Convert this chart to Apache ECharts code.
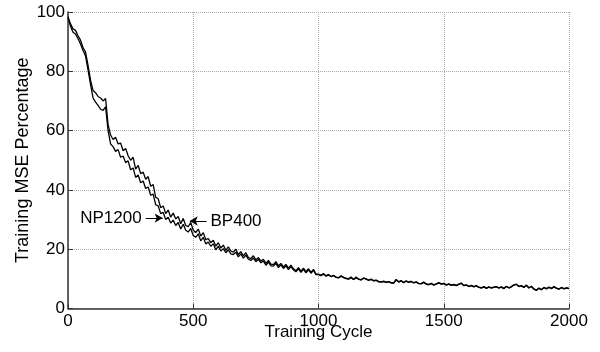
<!DOCTYPE html>
<html>
<head>
<meta charset="utf-8">
<script src="https://cdn.jsdelivr.net/npm/echarts@6/dist/echarts.min.js"></script>
<style>
html, body { margin: 0; padding: 0; background: #fff; }
#myChart { width: 600px; height: 352px; }
</style>
</head>
<body>
<div id="myChart"></div>
<script>
// MSE (%), one value every 10 training cycles (0..2000)
var np1200 = [
	98.4, 96.0, 94.3, 93.8, 92.0, 90.5, 88.0, 86.5, 82.0, 77.0,
	73.5, 72.8, 71.5, 71.0, 70.0, 70.8, 62.0, 58.5, 57.0, 57.8,
	55.5, 55.8, 53.2, 54.0, 51.5, 50.0, 51.0, 47.0, 48.3, 45.5,
	46.0, 43.6, 44.5, 41.2, 41.8, 37.5, 37.0, 34.0, 34.6, 32.0,
	33.2, 30.8, 32.2, 30.2, 31.0, 28.6, 30.4, 28.0, 27.6, 29.0,
	26.4, 25.6, 26.8, 24.4, 25.6, 23.2, 23.6, 22.2, 23.0, 21.0,
	22.2, 20.4, 21.4, 19.6, 20.8, 19.4, 19.0, 20.0, 18.2, 19.2,
	17.8, 18.8, 17.2, 16.8, 17.8, 16.4, 17.2, 16.0, 16.6, 15.2,
	16.2, 15.0, 14.8, 15.8, 14.4, 15.2, 14.0, 14.9, 13.6, 14.6,
	13.4, 12.8, 13.8, 12.6, 13.6, 12.4, 13.4, 12.2, 13.2, 11.6,
	11.6, 11.2, 11.8, 11.0, 11.5, 10.8, 11.2, 10.6, 10.4, 11.0,
	10.5, 10.2, 10.0, 10.6, 9.8, 10.6, 9.9, 9.7, 10.3, 10.0,
	9.6, 9.9, 9.4, 9.6, 9.1, 9.0, 9.2, 8.9, 9.1, 8.7,
	8.6, 9.8, 9.0, 9.4, 8.8, 9.3, 8.9, 9.2, 8.7, 9.0,
	8.5, 8.4, 8.9, 8.3, 8.1, 8.5, 8.0, 8.3, 8.7, 8.3,
	8.5, 8.0, 8.3, 7.9, 8.1, 7.8, 8.2, 8.6, 7.8, 8.0,
	7.5, 7.8, 7.4, 7.7, 7.2, 7.0, 7.4, 6.9, 7.3, 7.0,
	7.2, 7.4, 7.0, 7.3, 6.8, 7.5, 7.0, 7.4, 8.0, 8.2,
	7.5, 7.7, 7.2, 7.9, 7.0, 7.5, 6.6, 6.2, 6.9, 6.4,
	7.1, 6.7, 7.2, 6.8, 7.4, 6.9, 6.6, 7.1, 6.7, 7.0,
	6.8
];
var bp400 = [
	98.2, 95.2, 93.2, 92.6, 91.0, 89.2, 87.0, 85.2, 80.5, 75.5,
	71.0, 69.6, 68.5, 67.2, 66.8, 68.0, 60.0, 55.5, 54.6, 53.0,
	53.6, 51.0, 51.4, 49.2, 49.8, 46.8, 47.4, 44.2, 45.0, 42.4,
	43.0, 40.5, 41.0, 38.2, 38.6, 35.0, 34.6, 32.0, 32.4, 30.0,
	30.8, 28.8, 29.8, 28.0, 29.0, 26.8, 28.4, 26.4, 25.8, 27.0,
	24.6, 24.0, 25.2, 22.8, 24.0, 21.8, 22.4, 21.0, 21.8, 19.8,
	21.0, 19.4, 20.2, 18.8, 19.8, 18.4, 18.2, 19.0, 17.4, 18.4,
	17.0, 18.0, 16.6, 16.2, 17.0, 15.8, 16.6, 15.4, 16.0, 14.6,
	15.6, 14.4, 14.3, 15.2, 13.8, 14.7, 13.5, 14.4, 13.1, 14.1,
	13.0, 12.4, 13.4, 12.2, 13.2, 12.0, 13.0, 11.9, 12.9, 11.4,
	11.4, 11.1, 11.6, 10.9, 11.3, 10.7, 11.1, 10.5, 10.3, 10.9,
	10.4, 10.1, 9.9, 10.4, 9.8, 10.4, 9.9, 9.6, 10.2, 9.9,
	9.5, 9.8, 9.3, 9.5, 9.0, 8.9, 9.1, 8.8, 9.0, 8.6,
	8.6, 9.6, 8.9, 9.3, 8.7, 9.2, 8.8, 9.1, 8.6, 8.9,
	8.4, 8.3, 8.8, 8.2, 8.0, 8.4, 7.9, 8.2, 8.6, 8.2,
	8.4, 7.9, 8.2, 7.8, 8.0, 7.7, 8.1, 8.5, 7.7, 7.9,
	7.4, 7.7, 7.3, 7.6, 7.1, 6.9, 7.3, 6.8, 7.2, 6.9,
	7.1, 7.3, 6.9, 7.2, 6.7, 7.4, 6.9, 7.3, 7.9, 8.1,
	7.4, 7.6, 7.1, 7.8, 6.9, 7.4, 6.5, 6.1, 6.8, 6.3,
	7.0, 6.6, 7.1, 6.7, 7.3, 6.8, 6.5, 7.0, 6.6, 6.9,
	6.7
];
var xTicks = [0, 500, 1000, 1500, 2000];
var yTicks = [0, 20, 40, 60, 80, 100];
// annotation arrows: [label, x from, x to, y]
var npArrow = ['NP1200', 310, 378, 30.5];
var bpArrow = ['BP400', 553, 486, 29.5];

// sample positions (training cycle of each value above)
var cycles = [];
for (var i = 0; i < np1200.length; i++) cycles.push(i * 10);

function pairs(vals) {
	return vals.map(function (v, i) { return [cycles[i], v]; });
}

function arrow(a) {
	return [
		{ coord: [a[1], a[3]], label: { formatter: a[0] } },
		{ coord: [a[2], a[3]] }
	];
}

var font = 'Liberation Sans, Arial, Helvetica, sans-serif';

var myChart = echarts.init(document.getElementById('myChart'));

var option = {
	animation: false,
	textStyle: { fontFamily: font },
	grid: { left: 68, right: 31, top: 12, bottom: 43.5, containLabel: false, outerBoundsMode: 'none' },
	xAxis: {
		type: 'value',
		min: 0,
		max: 2000,
		interval: 500,
		name: 'Training Cycle',
		nameLocation: 'middle',
		nameGap: 15,
		nameMoveOverlap: false,
		nameTextStyle: { color: '#000', fontSize: 17, fontFamily: font },
		axisLine: { show: true, onZero: false, lineStyle: { color: '#333', width: 1.5 } },
		axisTick: { show: true, inside: true, length: 5, lineStyle: { color: '#333' } },
		axisLabel: {
			color: '#000', fontSize: 17, margin: 4, fontFamily: font,
			formatter: function (v) { return xTicks.indexOf(v) >= 0 ? String(v) : ''; }
		},
		splitLine: { show: true, lineStyle: { color: '#aaa', type: 'dotted', width: 1 } }
	},
	yAxis: {
		type: 'value',
		min: 0,
		max: 100,
		interval: 20,
		name: 'Training MSE Percentage',
		nameLocation: 'middle',
		nameGap: 36,
		nameMoveOverlap: false,
		nameTextStyle: { color: '#000', fontSize: 18, fontFamily: font },
		axisLine: { show: true, onZero: false, lineStyle: { color: '#333', width: 1.5 } },
		axisTick: { show: true, inside: true, length: 5, lineStyle: { color: '#333' } },
		axisLabel: {
			color: '#000', fontSize: 17, margin: 3, fontFamily: font,
			formatter: function (v) { return yTicks.indexOf(v) >= 0 ? String(v) : ''; }
		},
		splitLine: { show: true, lineStyle: { color: '#aaa', type: 'dotted', width: 1 } }
	},
	series: [
		{
			name: 'NP1200',
			type: 'line',
			showSymbol: false,
			data: pairs(np1200),
			lineStyle: { color: '#000', width: 1.3 },
			markLine: {
				silent: true,
				symbol: ['none', 'arrow'],
				symbolSize: [7, 8],
				lineStyle: { color: '#000', width: 1, type: 'solid' },
				label: { show: true, position: 'start', color: '#000', fontSize: 17, fontFamily: font, distance: 4 },
				data: [arrow(npArrow), arrow(bpArrow)]
			}
		},
		{
			name: 'BP400',
			type: 'line',
			showSymbol: false,
			data: pairs(bp400),
			lineStyle: { color: '#000', width: 1.3 }
		}
	]
};

myChart.setOption(option);
</script>
</body>
</html>
